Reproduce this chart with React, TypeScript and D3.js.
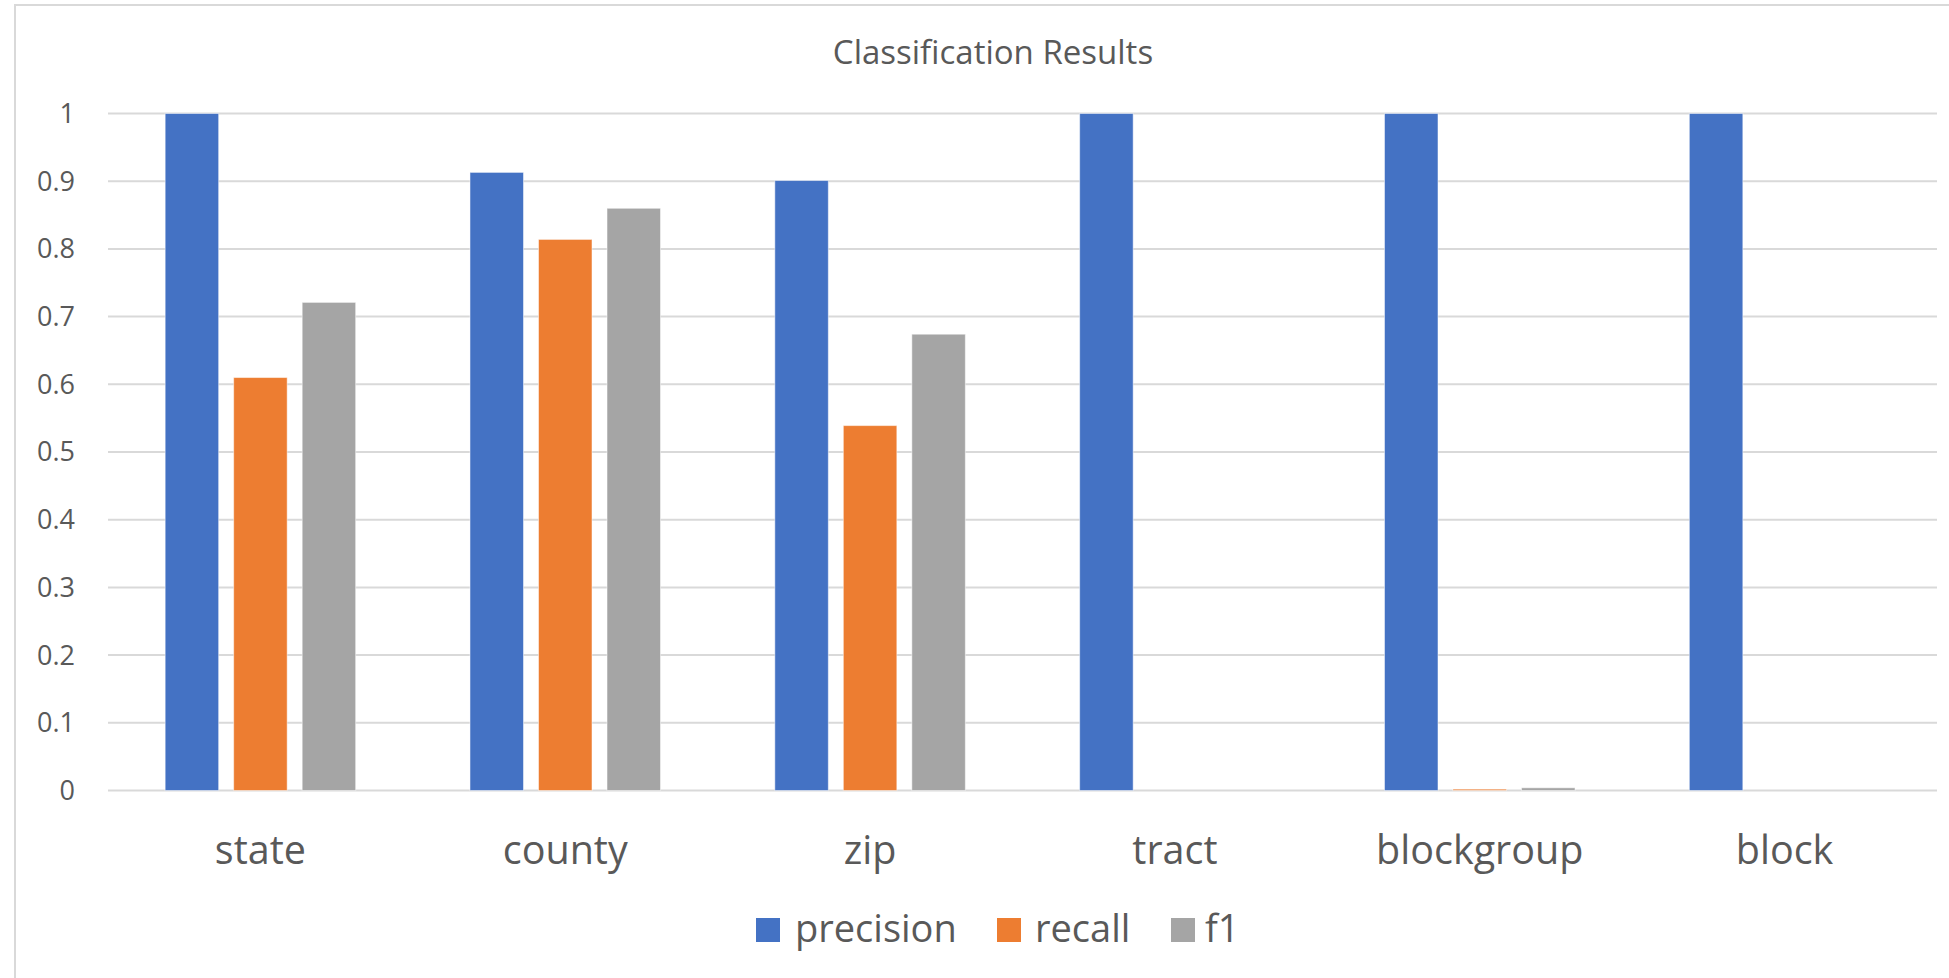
import React from "react";
import * as d3 from "d3";

const categories = ["state", "county", "zip", "tract", "blockgroup", "block"];
const seriesNames = ["precision", "recall", "f1"];
const precision = [1, 0.913, 0.901, 1, 1, 1];
const recall = [0.61, 0.814, 0.539, 0, 0.002, 0];
const f1 = [0.721, 0.86, 0.674, 0, 0.004, 0];
const seriesColors = ["#4472C4", "#ED7D31", "#A5A5A5"];
const yTicks = [0, 0.1, 0.2, 0.3, 0.4, 0.5, 0.6, 0.7, 0.8, 0.9, 1];
const title = "Classification Results";

const W = 1949;
const H = 978;
const FONT = "'Open Sans', 'Noto Sans', sans-serif";
const TEXT = "#595959";

export default function App() {
  const values = [precision, recall, f1];
  const plotLeft = 108;
  const plotRight = 1937;
  const y = d3.scaleLinear().domain([0, 1]).range([790.5, 113.5]);
  const x0 = d3
    .scaleBand<string>()
    .domain(categories)
    .range([plotLeft, plotRight])
    .paddingInner(0.375)
    .paddingOuter(0.1875);
  const x1 = d3
    .scaleBand<string>()
    .domain(seriesNames)
    .range([0, x0.bandwidth()])
    .paddingInner(0.219)
    .paddingOuter(0);

  // legend layout
  const legendItems = [
    { name: "precision", sq: 756, tx: 795 },
    { name: "recall", sq: 997, tx: 1035 },
    { name: "f1", sq: 1171, tx: 1205 },
  ];

  return (
    <div style={{ position: "absolute", left: 0, top: 0 }}>
      <svg width={W} height={H} style={{ display: "block", background: "#fff" }}>
        <rect x={15} y={5} width={W} height={H} fill="#fff" stroke="#d9d9d9" strokeWidth={2} />
        <text
          x={993}
          y={64}
          textAnchor="middle"
          fontFamily={FONT}
          fontSize={33}
          fill={TEXT}
        >
          {title}
        </text>
        {yTicks.map((t) => (
          <g key={t}>
            <line
              x1={plotLeft}
              x2={plotRight}
              y1={y(t)}
              y2={y(t)}
              stroke="#d9d9d9"
              strokeWidth={2}
            />
            <text
              x={75}
              y={y(t)}
              dy="0.35em"
              textAnchor="end"
              fontFamily={FONT}
              fontSize={27}
              fill={TEXT}
            >
              {String(t)}
            </text>
          </g>
        ))}
        {categories.map((c, ci) => (
          <g key={c} transform={`translate(${x0(c)},0)`}>
            {seriesNames.map((s, si) => {
              const v = values[si][ci];
              if (v <= 0) return null;
              const top = y(v);
              return (
                <rect
                  key={s}
                  x={x1(s)}
                  y={top}
                  width={x1.bandwidth()}
                  height={y(0) - top}
                  fill={seriesColors[si]}
                  stroke="#ffffff"
                  strokeOpacity={0.5}
                  strokeWidth={1}
                />
              );
            })}
            <text
              x={x0.bandwidth() / 2}
              y={864}
              textAnchor="middle"
              fontFamily={FONT}
              fontSize={39.5}
              fill={TEXT}
            >
              {c}
            </text>
          </g>
        ))}
        {legendItems.map((it, i) => (
          <g key={it.name}>
            <rect x={it.sq} y={918} width={24} height={24} fill={seriesColors[i]} />
            <text x={it.tx} y={942} fontFamily={FONT} fontSize={38} fill={TEXT}>
              {it.name}
            </text>
          </g>
        ))}
      </svg>
    </div>
  );
}
